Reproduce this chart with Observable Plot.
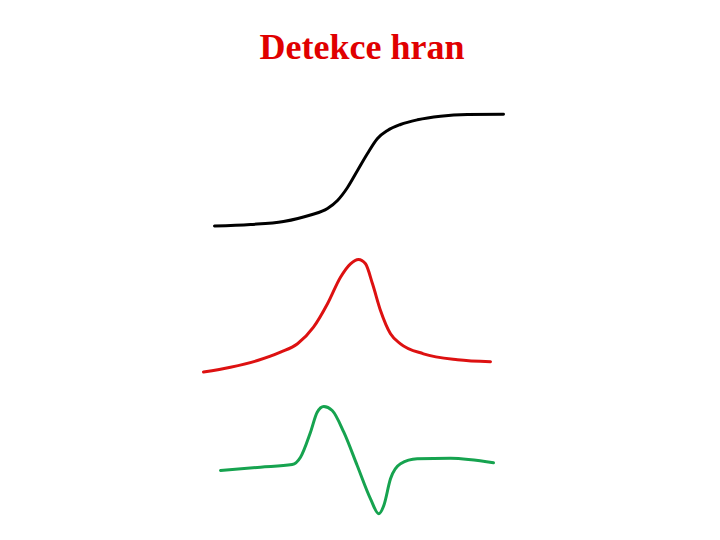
<!DOCTYPE html>
<html>
<head>
<meta charset="utf-8">
<script src="https://cdn.jsdelivr.net/npm/d3@7"></script>
<script src="https://cdn.jsdelivr.net/npm/@observablehq/plot@0.6"></script>
<style>
  html, body { margin: 0; padding: 0; background: #fff; }
  #title { box-sizing: border-box; height: 80px; padding-top: 26px; text-align: center;
           font-family: "Liberation Serif", "Times New Roman", serif; font-weight: bold;
           font-size: 36px; color: #e00000; line-height: normal; padding-left: 4px; }
  #chart svg { display: block; }
</style>
</head>
<body>
<div id="title">Detekce hran</div>
<div id="chart"></div>
<script>
// Step edge (original signal)
const signalX = [214, 250, 283, 310, 327, 337, 347, 357, 367, 377, 387, 400, 417, 440, 467, 503];
const signalY = [225.5, 224, 221, 214.5, 208, 200, 187, 170, 153, 138, 130, 124, 119.3, 115.7, 114, 113.7];
// First derivative
const deriv1X = [203, 230, 257, 280, 297, 313, 327, 340, 350, 358, 365, 372, 380, 390, 400, 423, 457, 490];
const deriv1Y = [371.5, 366.7, 360, 351.7, 343.3, 326.7, 303.3, 276.7, 263.3, 259, 263.3, 283.3, 310, 333.3, 343.3, 353.3, 359.3, 361.3];
// Second derivative
const deriv2X = [220, 260, 291.7, 300, 310, 316.7, 323.3, 331.7, 343.3, 356.7, 370, 378.3, 383.3, 390, 400, 416.7, 450, 493];
const deriv2Y = [470, 466.7, 464, 456.7, 431.7, 411.7, 406, 410, 431.7, 465, 498.3, 513.3, 505, 478.3, 463.3, 458.3, 457.7, 462.3];

const colors = ["#000000", "#dd1111", "#16a34f"];
const toRows = (xs, ys) => xs.map((x, i) => ({x, y: ys[i]}));

const plot = Plot.plot({
  width: 720,
  height: 460,
  margin: 0,
  x: {domain: [0, 720], axis: null},
  y: {domain: [540, 80], axis: null},
  marks: [
    Plot.line(toRows(signalX, signalY), {x: "x", y: "y", stroke: colors[0], strokeWidth: 3, curve: "monotone-x"}),
    Plot.line(toRows(deriv1X, deriv1Y), {x: "x", y: "y", stroke: colors[1], strokeWidth: 3, curve: "monotone-x"}),
    Plot.line(toRows(deriv2X, deriv2Y), {x: "x", y: "y", stroke: colors[2], strokeWidth: 3, curve: "monotone-x"})
  ]
});
document.getElementById("chart").appendChild(plot);
</script>
</body>
</html>
